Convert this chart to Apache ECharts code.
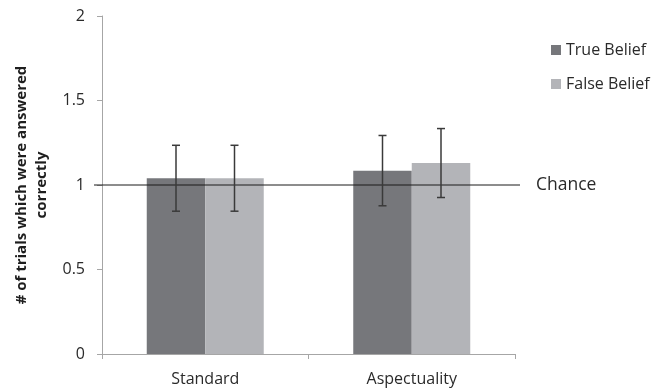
<!DOCTYPE html>
<html><head><meta charset="utf-8">
<script src="https://cdn.jsdelivr.net/npm/echarts@6/dist/echarts.min.js"></script>
<style>html,body{margin:0;padding:0;background:#fff}#c{width:660px;height:391px}</style>
</head><body><div id="c"></div>
<script>
const categories = ['Standard', 'Aspectuality'];
const trueBelief = [1.04, 1.085];
const falseBelief = [1.04, 1.13];
const trueErr = [0.195, 0.208];
const falseErr = [0.195, 0.204];
const chanceLevel = 1;
const yTicks = [0, 0.5, 1, 1.5, 2];

const FONT = '"Open Sans", sans-serif';
const TXT = '#2a2a2a';
const BAR_W = 58.5;
const chart = echarts.init(document.getElementById('c'));

function errSeries(vals, errs, side, name) {
  return {
    type: 'custom', name: name, xAxisIndex: 0, yAxisIndex: 0, z: 5,
    data: vals.map((v, i) => [i, v - errs[i], v + errs[i]]),
    renderItem: function (params, api) {
      const lo = api.coord([api.value(0), api.value(1)]);
      const hi = api.coord([api.value(0), api.value(2)]);
      const x = lo[0] + side * BAR_W / 2;
      const cap = 4;
      const st = { stroke: '#3a3a3a', lineWidth: 1.5 };
      return { type: 'group', children: [
        { type: 'line', shape: { x1: x, y1: hi[1], x2: x, y2: lo[1] }, style: st },
        { type: 'line', shape: { x1: x - cap, y1: hi[1], x2: x + cap, y2: hi[1] }, style: st },
        { type: 'line', shape: { x1: x - cap, y1: lo[1], x2: x + cap, y2: lo[1] }, style: st }
      ]};
    },
    tooltip: { show: false }
  };
}

chart.setOption({
  animation: false,
  textStyle: { fontFamily: FONT },
  grid: [
    { left: 102, right: 145, top: 16, bottom: 37 },
    { left: 94, right: 140, top: 16, bottom: 37 }
  ],
  legend: {
    orient: 'vertical', left: 546, top: 37, itemGap: 18,
    itemWidth: 10, itemHeight: 10, icon: 'rect',
    data: ['True Belief', 'False Belief'],
    textStyle: { fontSize: 16, color: TXT, fontFamily: FONT, padding: [0, 0, 0, 0] }
  },
  xAxis: [
    { type: 'category', gridIndex: 0, data: categories,
      axisLine: { lineStyle: { color: '#a6a6a6' } },
      axisTick: { show: true, length: 5, lineStyle: { color: '#a6a6a6' } },
      axisLabel: { fontSize: 16, color: TXT, margin: 17, fontFamily: FONT } },
    { type: 'value', gridIndex: 1, min: 0, max: 1, show: false }
  ],
  yAxis: [
    { type: 'value', gridIndex: 0, min: 0, max: 2, interval: 0.5,
      name: '# of trials which were answered\ncorrectly',
      nameLocation: 'middle', nameGap: 47, nameRotate: 90,
      nameTextStyle: { fontSize: 15, fontWeight: 'bold', color: '#1e1e1e', lineHeight: 20, fontFamily: FONT },
      axisLine: { show: true, lineStyle: { color: '#a6a6a6' } },
      axisTick: { show: true, length: 5, lineStyle: { color: '#a6a6a6' } },
      splitLine: { show: false },
      axisLabel: { fontSize: 16, color: TXT, margin: 17, fontFamily: FONT,
        formatter: v => yTicks.includes(v) ? String(v) : '' } },
    { type: 'value', gridIndex: 1, min: 0, max: 2, show: false }
  ],
  series: [
    { type: 'bar', name: 'True Belief', data: trueBelief, barWidth: BAR_W, barGap: '0%',
      itemStyle: { color: '#76777b' } },
    { type: 'bar', name: 'False Belief', data: falseBelief, barWidth: BAR_W, barGap: '0%',
      itemStyle: { color: '#b3b4b8' } },
    errSeries(trueBelief, trueErr, -1, 'errT'),
    errSeries(falseBelief, falseErr, 1, 'errF'),
    { type: 'line', name: 'Chance', xAxisIndex: 1, yAxisIndex: 1, z: 4,
      data: [[0, chanceLevel], [1, chanceLevel]], symbol: 'none',
      lineStyle: { color: '#1a1a1a', width: 1 },
      endLabel: { show: true, formatter: 'Chance', fontSize: 17.5, color: TXT, distance: 16, fontFamily: FONT } }
  ]
});
</script></body></html>
